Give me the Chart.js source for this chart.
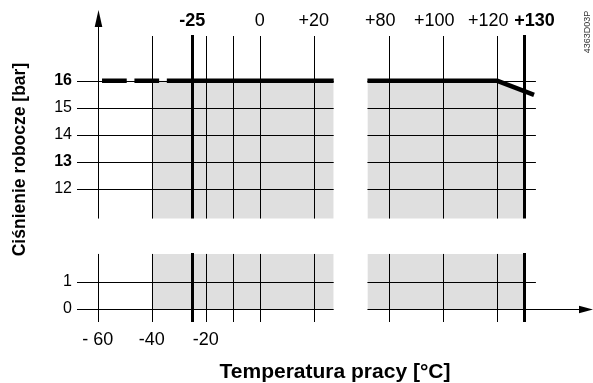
<!DOCTYPE html>
<html>
<head>
<meta charset="utf-8">
<script src="https://cdn.jsdelivr.net/npm/chart.js@4.4.1/dist/chart.umd.min.js"></script>
<style>
  html, body { margin: 0; padding: 0; background: #fff; }
  #wrap { width: 593px; height: 383px; }
</style>
</head>
<body>
<div id="wrap"><canvas id="chart" width="593" height="383"></canvas></div>
<script>
// tick labels (real units: °C and bar)
const topTicksT = [-25, 0, 20];
const topTickLabels = ['-25', '0', '+20'];
const hotTicksT = [80, 100, 120];
const hotTickLabels = ['+80', '+100', '+120'];
const endTicksT = [130];
const endTickLabels = ['+130'];
const bottomTicksT = [-60, -40, -20];
const bottomTickLabels = ['- 60', '-40', '-20'];
const boldTemps = [-25, 130];

const pressureTicks = [0, 1, 12, 13, 14, 15, 16];
const pressureLabels = ['0', '1', '12', '13', '14', '15', '16'];
const boldPressures = [13, 16];

// grid lines
const gridTemps = [-60, -40, -20, -10, 0, 20, 80, 100, 120];
const limitTemps = [-25, 130];

// max. working pressure curve
const curveT = [-58.4, -34.4, 27.4];
const curveP = [16, 16, 16];
const curveRightT = [71.9, 120, 133.6];
const curveRightP = [16, 16, 15.48];

// shaded working range
const shadeLeftT = [-40, 27.4];
const shadeLeftP = [16, 16];
const shadeRightT = [71.9, 120, 130];
const shadeRightP = [16, 16, 15.62];
const shadeLowLeftT = [-40, 27.4];
const shadeLowRightT = [71.9, 130];
const shadeLowP = [2.04, 2.04];

const drawingCode = '4363D03P';

// broken axes: temperatures above X_BREAK and pressures above Y_BREAK are pulled together
const X_BREAK = 50, X_SHIFT = 32;
const Y_BREAK = 6, Y_SHIFT = 7.55;
const xv = t => t > X_BREAK ? t - X_SHIFT : t;
const yv = p => p > Y_BREAK ? p - Y_SHIFT : p;
const LEFT_END = 27.4, RIGHT_START = 71.9, RIGHT_END = 134.3;
const TOP_LOW = 10.9, LOW_TOP = 2.04;
const TOP_LABEL_LEVEL = 11.07; // (virtual) height where the right-hand top labels sit

const FONT = '"Liberation Sans", Arial, sans-serif';
const SHADE = '#dfdfdf';

const pts = (ts, ps) => ts.map((t, i) => ({ x: xv(t), y: yv(ps[i]) }));

const brokenAxes = {
  id: 'brokenAxes',
  afterDatasetsDraw(chart) {
    const { ctx, chartArea: a, scales: { x, y } } = chart;
    const px = t => x.getPixelForValue(xv(t));
    const py = p => y.getPixelForValue(yv(p));
    const crisp = v => Math.round(v) + 0.5;
    const xSegs = [[a.left, px(LEFT_END)], [px(RIGHT_START), px(RIGHT_END)]];
    const ySegs = [[a.top, py(TOP_LOW)], [py(LOW_TOP), a.bottom]];
    const arrowTop = a.top - 26;

    ctx.save();
    ctx.strokeStyle = '#000';
    ctx.fillStyle = '#000';
    ctx.lineWidth = 1;
    ctx.beginPath();
    pressureTicks.forEach(p => {
      const yy = crisp(py(p));
      xSegs.forEach(([x0, x1], i) => {
        const end = (p === 0 && i === 1) ? a.right - 12 : x1;
        ctx.moveTo(x0, yy);
        ctx.lineTo(end, yy);
      });
    });
    gridTemps.forEach(t => {
      const xx = crisp(px(t));
      ySegs.forEach(([y0, y1], i) => {
        const start = (t === -60 && i === 0) ? arrowTop + 12 : y0;
        ctx.moveTo(xx, start);
        ctx.lineTo(xx, y1);
      });
    });
    ctx.stroke();

    ctx.lineWidth = 3;
    ctx.beginPath();
    limitTemps.forEach(t => {
      const xx = crisp(px(t));
      ySegs.forEach(([y0, y1]) => {
        ctx.moveTo(xx, y0 - 1);
        ctx.lineTo(xx, y1);
      });
    });
    ctx.stroke();

    // arrow heads
    const ax = crisp(px(-60));
    ctx.beginPath();
    ctx.moveTo(ax, arrowTop);
    ctx.lineTo(ax - 3.8, arrowTop + 17);
    ctx.lineTo(ax + 3.8, arrowTop + 17);
    ctx.closePath();
    ctx.fill();
    const ay = crisp(py(0));
    ctx.beginPath();
    ctx.moveTo(a.right, ay);
    ctx.lineTo(a.right - 14, ay - 3.8);
    ctx.lineTo(a.right - 14, ay + 3.8);
    ctx.closePath();
    ctx.fill();

    // y title
    ctx.save();
    ctx.translate(20, (py(0) + arrowTop) / 2);
    ctx.rotate(-Math.PI / 2);
    ctx.font = 'bold 17.5px ' + FONT;
    ctx.textAlign = 'center';
    ctx.textBaseline = 'middle';
    ctx.fillText('Ciśnienie robocze [bar]', 0, 0);
    ctx.restore();

    // drawing code
    ctx.save();
    ctx.translate(588, 32);
    ctx.rotate(-Math.PI / 2);
    ctx.font = '9px ' + FONT;
    ctx.fillStyle = '#333';
    ctx.textAlign = 'center';
    ctx.textBaseline = 'middle';
    ctx.fillText(drawingCode, 0, 0);
    ctx.restore();

    ctx.restore();
  }
};

const X_MIN = -67.67, X_MAX = 123.44;
const Y_MIN = -0.48, Y_MAX = 10.11;

const xAxis = (extra) => Object.assign({
  type: 'linear', min: X_MIN, max: X_MAX,
  grid: { display: false, drawTicks: false },
  border: { display: false }
}, extra);

const tempFont = (list) => (c) => ({
  family: FONT, size: 18,
  weight: boldTemps.includes(list[c.index]) ? 'bold' : 'normal'
});

const topLabels = (temps, labels, extra) => xAxis({
  position: { y: TOP_LABEL_LEVEL },
  afterBuildTicks: s => { s.ticks = temps.map(t => ({ value: xv(t) })); },
  ticks: Object.assign({
    padding: 0, color: '#000', autoSkip: false, maxRotation: 0,
    font: tempFont(temps),
    callback: (v, i) => labels[i]
  }, extra)
});

const shade = (data, base) => ({
  data, fill: { value: yv(base) }, backgroundColor: SHADE,
  borderWidth: 0, borderColor: 'transparent', pointRadius: 0, order: 3,
  xAxisID: 'x', yAxisID: 'y'
});

new Chart(document.getElementById('chart'), {
  type: 'line',
  data: {
    datasets: [
      shade(pts(shadeLeftT, shadeLeftP), TOP_LOW),
      shade(pts(shadeRightT, shadeRightP), TOP_LOW),
      shade(pts(shadeLowLeftT, shadeLowP), 0),
      shade(pts(shadeLowRightT, shadeLowP), 0),
      {
        data: pts(curveT, curveP), borderColor: '#000', borderWidth: 4.5,
        pointRadius: 0, fill: false, borderCapStyle: 'butt', order: 1,
        segment: { borderDash: c => c.p0DataIndex === 0 ? [24.7, 7.7] : undefined },
        xAxisID: 'x', yAxisID: 'y'
      },
      {
        data: pts(curveRightT, curveRightP), borderColor: '#000', borderWidth: 4.5,
        pointRadius: 0, fill: false, borderCapStyle: 'butt', order: 1,
        xAxisID: 'x', yAxisID: 'y'
      }
    ]
  },
  options: {
    responsive: false,
    animation: false,
    events: [],
    layout: { padding: 0 },
    plugins: { legend: { display: false }, tooltip: { enabled: false } },
    scales: {
      x: xAxis({
        position: 'bottom',
        afterBuildTicks: s => { s.ticks = bottomTicksT.map(t => ({ value: xv(t) })); },
        afterFit: s => { s.height = 61; },
        ticks: {
          padding: 7, color: '#000', autoSkip: false, maxRotation: 0,
          font: { family: FONT, size: 18 },
          callback: (v, i) => bottomTickLabels[i]
        },
        title: {
          display: true, text: 'Temperatura pracy [°C]', color: '#000', padding: 0,
          font: { family: FONT, size: 21, weight: 'bold', lineHeight: 1 }
        }
      }),
      xTop: xAxis({
        position: 'top',
        afterBuildTicks: s => { s.ticks = topTicksT.map(t => ({ value: xv(t) })); },
        afterFit: s => { s.height = 36; },
        ticks: {
          padding: 4, color: '#000', autoSkip: false, maxRotation: 0,
          font: tempFont(topTicksT),
          callback: (v, i) => topTickLabels[i]
        }
      }),
      xHot: topLabels(hotTicksT, hotTickLabels, { labelOffset: -9 }),
      xEnd: topLabels(endTicksT, endTickLabels, { align: 'start', labelOffset: -10 }),
      y: {
        type: 'linear', position: 'left', min: Y_MIN, max: Y_MAX,
        grid: { display: false, drawTicks: false },
        border: { display: false },
        afterBuildTicks: s => { s.ticks = pressureTicks.map(p => ({ value: yv(p) })); },
        afterFit: s => { s.width = 77; },
        ticks: {
          padding: 5, color: '#000', autoSkip: false,
          font: c => ({
            family: FONT, size: 16,
            weight: boldPressures.includes(pressureTicks[c.index]) ? 'bold' : 'normal'
          }),
          callback: (v, i) => pressureLabels[i]
        }
      }
    }
  },
  plugins: [brokenAxes]
});
</script>
</body>
</html>
